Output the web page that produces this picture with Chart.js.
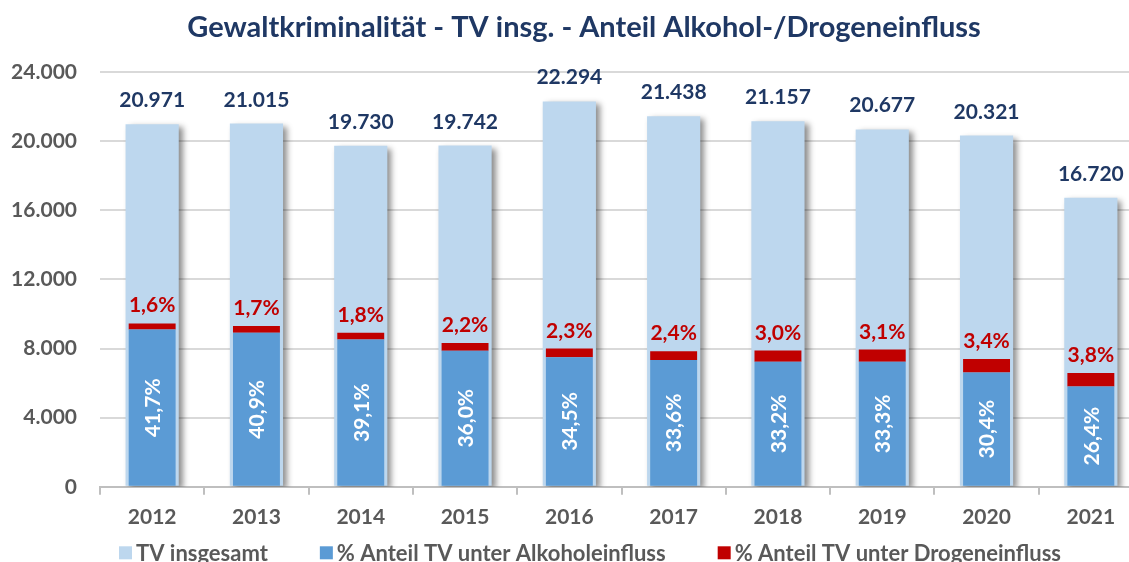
<!DOCTYPE html>
<html>
<head>
<meta charset="utf-8">
<script src="https://cdn.jsdelivr.net/npm/chart.js@4/dist/chart.umd.min.js"></script>
<style>
  html, body { margin: 0; padding: 0; background: #fff; overflow: hidden; }
  #wrap { width: 1168px; height: 576px; }
</style>
</head>
<body>
<div id="wrap"><canvas id="chart" width="1168" height="576"></canvas></div>
<script>
// chart data
const years        = ["2012", "2013", "2014", "2015", "2016", "2017", "2018", "2019", "2020", "2021"];
const totals       = [20971, 21015, 19730, 19742, 22294, 21438, 21157, 20677, 20321, 16720];
const alcoholCases = [9100, 8910, 8520, 7870, 7500, 7330, 7230, 7230, 6620, 5810];
const drugCases    = [350, 390, 400, 445, 500, 520, 650, 710, 770, 770];
const alcoholPct   = ["41,7%", "40,9%", "39,1%", "36,0%", "34,5%", "33,6%", "33,2%", "33,3%", "30,4%", "26,4%"];
const drugPct      = ["1,6%", "1,7%", "1,8%", "2,2%", "2,3%", "2,4%", "3,0%", "3,1%", "3,4%", "3,8%"];
const yTicks       = [0, 4000, 8000, 12000, 16000, 20000, 24000];

const seriesNames  = ["TV insgesamt", "% Anteil TV unter Alkoholeinfluss", "% Anteil TV unter Drogeneinfluss"];
const seriesColors = ["#BDD7EE", "#5B9BD5", "#C00000"];

const FONT  = "Lato, 'Open Sans', sans-serif";
const NAVY  = "#1F3864";
const GREY  = "#595959";

const fmt = v => String(v).replace(/\B(?=(\d{3})+(?!\d))/g, ".");

// soft shadow behind the big bars
const shadowPlugin = {
  id: "barShadow",
  beforeDatasetDraw(chart, args) {
    if (args.index !== 0) return;
    const ctx = chart.ctx;
    ctx.save();
    ctx.shadowColor   = "rgba(0,0,0,0.45)";
    ctx.shadowBlur    = 6;
    ctx.shadowOffsetX = 4;
    ctx.shadowOffsetY = 3;
  },
  afterDatasetDraw(chart, args) {
    if (args.index !== 0) return;
    chart.ctx.restore();
  }
};

// value labels
const labelPlugin = {
  id: "valueLabels",
  afterDatasetsDraw(chart) {
    const ctx = chart.ctx;
    const mTotal = chart.getDatasetMeta(0);
    const mAlc   = chart.getDatasetMeta(1);
    const mDrug  = chart.getDatasetMeta(2);
    ctx.save();
    ctx.font = `bold 21px ${FONT}`;
    ctx.textAlign = "center";
    ctx.textBaseline = "alphabetic";

    mTotal.data.forEach((bar, i) => {
      ctx.fillStyle = NAVY;
      ctx.fillText(fmt(totals[i]), bar.x, bar.y - 17);
    });

    mDrug.data.forEach((bar, i) => {
      ctx.fillStyle = "#C00000";
      ctx.fillText(drugPct[i], bar.x, bar.y - 11);
    });

    mAlc.data.forEach((bar, i) => {
      const cy = (bar.y + bar.base) / 2;
      ctx.save();
      ctx.translate(bar.x, cy);
      ctx.rotate(-Math.PI / 2);
      ctx.fillStyle = "#ffffff";
      ctx.textBaseline = "middle";
      ctx.fillText(alcoholPct[i], 0, 1);
      ctx.restore();
    });
    ctx.restore();
  }
};

// legend drawn by hand (box, small gap, text, wide gap)
const legendPlugin = {
  id: "customLegend",
  afterDraw(chart) {
    const ctx = chart.ctx;
    ctx.save();
    ctx.font = `bold 22px ${FONT}`;
    ctx.textBaseline = "middle";
    ctx.textAlign = "left";
    const box = 13, gap = 4, spacing = 52;
    const widths = seriesNames.map(t => box + gap + ctx.measureText(t).width);
    const total  = widths.reduce((a, b) => a + b, 0) + spacing * (widths.length - 1);
    let x = chart.width / 2 + 6 - total / 2;
    const y = chart.chartArea.bottom + 66;
    seriesNames.forEach((t, i) => {
      ctx.fillStyle = seriesColors[i];
      ctx.fillRect(x, y - box / 2, box, box);
      ctx.fillStyle = GREY;
      ctx.fillText(t, x + box + gap, y + 1);
      x += widths[i] + spacing;
    });
    ctx.restore();
  }
};

const ctx = document.getElementById("chart").getContext("2d");

new Chart(ctx, {
  type: "bar",
  data: {
    labels: years,
    datasets: [
      {
        label: seriesNames[0],
        data: totals,
        backgroundColor: seriesColors[0],
        stack: "total",
        order: 1,
        grouped: false,
        barPercentage: 0.51,
        categoryPercentage: 1
      },
      {
        label: seriesNames[1],
        data: alcoholCases,
        backgroundColor: seriesColors[1],
        stack: "share",
        order: 0,
        grouped: false,
        barPercentage: 0.45,
        categoryPercentage: 1
      },
      {
        label: seriesNames[2],
        data: drugCases,
        backgroundColor: seriesColors[2],
        stack: "share",
        order: 0,
        grouped: false,
        barPercentage: 0.45,
        categoryPercentage: 1
      }
    ]
  },
  options: {
    responsive: false,
    animation: false,
    layout: { padding: { left: 0, right: 0, top: 0, bottom: 36 } },
    scales: {
      x: {
        afterFit: s => { s.paddingRight = 25; },
        grid: {
          display: true,
          drawOnChartArea: false,
          offset: true,
          tickLength: 8,
          color: "#BFBFBF",
          lineWidth: 2
        },
        border: { display: true, color: "#BFBFBF", width: 2 },
        ticks: {
          padding: 10,
          color: GREY,
          font: { family: FONT, size: 21, weight: "bold" }
        }
      },
      y: {
        stacked: true,
        min: 0,
        max: 24000,
        afterFit: s => { s.width = 100; },
        afterBuildTicks: s => { s.ticks = yTicks.map(v => ({ value: v })); },
        grid: { drawTicks: false, color: "#D9D9D9", lineWidth: 2 },
        border: { display: false },
        ticks: {
          padding: 23,
          color: GREY,
          font: { family: FONT, size: 21, weight: "bold" },
          callback: v => fmt(v)
        }
      }
    },
    plugins: {
      legend: { display: false },
      tooltip: { enabled: false },
      title: {
        display: true,
        text: "Gewaltkriminalität - TV insg. - Anteil Alkohol-/Drogeneinfluss",
        color: NAVY,
        font: { family: FONT, size: 29, weight: "bold", lineHeight: 1.2 },
        padding: { top: 10, bottom: 27.2 }
      }
    }
  },
  plugins: [shadowPlugin, labelPlugin, legendPlugin]
});
</script>
</body>
</html>
